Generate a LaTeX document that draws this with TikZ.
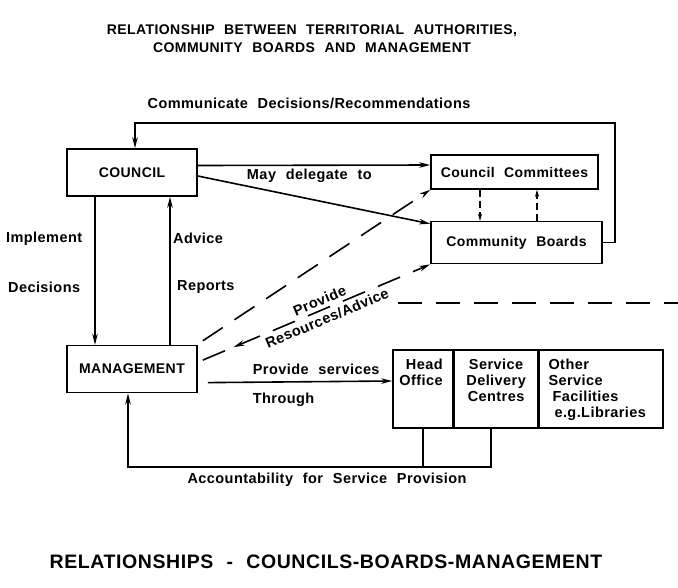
\documentclass[tikz,border=0pt]{standalone}
\usepackage{fontspec}
\setmainfont{Liberation Sans}[WordSpace=2.2,LetterSpace=3]
\usetikzlibrary{arrows.meta,positioning,decorations.markings}

\begin{document}
\begin{tikzpicture}[
    x=1pt, y=-1pt,
    line width=1.6pt,
    >={Stealth[length=11pt,width=5.5pt]},
    box node/.style={rectangle,draw,line width=1.6pt,font=\bfseries\fontsize{14}{16}\selectfont},
    text node/.style={font=\bfseries\fontsize{14.5}{16}\selectfont},
    title node/.style={font=\bfseries\fontsize{14}{18}\selectfont,align=center},
    long dashes/.style={dash pattern=on 24pt off 14pt},
    short dashes/.style={dash pattern=on 7pt off 4pt},
    small tip/.style={-{Stealth[length=7pt,width=4pt]}}
]

\useasboundingbox (0,0) rectangle (678,587);

% Titles
\node[title node] (title) at (312,39) {RELATIONSHIP BETWEEN TERRITORIAL AUTHORITIES,\\COMMUNITY BOARDS AND MANAGEMENT};
\node[font=\bfseries\fontsize{19.5}{24}\selectfont] (caption) at (326,562) {RELATIONSHIPS - COUNCILS-BOARDS-MANAGEMENT};

% Council and Management
\node[box node, minimum width=130pt, minimum height=47pt] (council) at (132,172.5) {COUNCIL};
\node[box node, minimum width=130pt, minimum height=47pt, below=148pt of council] (management) {MANAGEMENT};

% Committees and Boards
\node[box node, minimum width=167pt, minimum height=34pt] (committees) at (514.5,172) {Council Committees};
\node[box node, minimum width=171pt, minimum height=42pt, below=31pt of committees, xshift=2pt] (boards) {Community Boards};

% Service outlets
\node[box node, minimum width=60pt, minimum height=78pt] (head) at (423,389) {};
\node[box node, minimum width=83pt, minimum height=78pt, right=0pt of head] (centres) {};
\node[box node, minimum width=124pt, minimum height=78pt, right=0pt of centres] (other) {};
\node[text node, align=right, anchor=north east] (headtext) at ([xshift=-7pt,yshift=-6pt]head.north east) {Head\\Office};
\node[text node, align=center, anchor=north] (centrestext) at ([yshift=-6pt]centres.north) {Service\\Delivery\\Centres};
\node[text node, align=left, anchor=north west] (othertext) at ([xshift=6pt,yshift=-6pt]other.north west) {Other\\Service\\\hspace{4pt}Facilities\\\hspace{6pt}e.g.Libraries};

% Labels
\node[text node, anchor=west] (implement) at (2,239) {Implement};
\node[text node, anchor=west] (decisions) at (4,287) {Decisions};
\node[text node, anchor=west] (advice) at (169,238) {Advice};
\node[text node, anchor=west] (reports) at (173,287) {Reports};
\node[text node] (communicate) at (309,103) {Communicate Decisions/Recommendations};
\node[text node] (accountability) at (327,480) {Accountability for Service Provision};

% Arrows
\draw[->] ([yshift=7pt]council.east) -- ([yshift=7pt]committees.west) node[text node, below, pos=0.48] (delegate) {May delegate to};
\draw[->] ([yshift=-3.5pt]council.east) -- ([yshift=-3pt]boards.north west);
\draw[->] ([xshift=-37pt]council.south) -- ([xshift=-37pt]management.north);
\draw[->] ([xshift=38pt]management.north) -- ([xshift=38pt]council.south);

% Feedback to council
\coordinate (fb) at (135,123);
\draw[->] (boards.east) -- ++(12,0) |- (fb) -- ([xshift=3pt]council.north);

% Between committees and boards
\draw[short dashes, small tip] ([xshift=-34.5pt]committees.south) -- ([xshift=-34.5pt]committees.south |- boards.north);
\draw[short dashes, small tip] ([xshift=20.5pt]boards.north) -- ([xshift=20.5pt]boards.north |- committees.south);

% Resources and advice
\draw[long dashes, ->] ([xshift=5pt,yshift=4pt]management.north east) -- (committees.south west);
\draw[long dashes, ->, postaction={decorate}, decoration={markings, mark=at position 0.18 with {\arrow{<}}}] ([xshift=5pt,yshift=9pt]management.east) -- (boards.south west)
    node[text node, sloped, align=center, pos=0.53, font=\bfseries\fontsize{14.5}{19}\selectfont] (provide) {Provide\\Resources/Advice};

% Separator
\draw[long dashes] (398,303) -- (678,303);

% Services
\draw[->] ([xshift=10pt,yshift=-13.5pt]management.east) -- ([yshift=8pt]head.west)
    node[text node, pos=0.24, anchor=south west, inner xsep=0pt, inner ysep=7pt] (services) {Provide services}
    node[text node, pos=0.24, anchor=north west, inner xsep=0pt, inner ysep=10pt] (through) {Through};

% Accountability
\coordinate (acc) at (128,467);
\draw (head.south) -- (head.south |- acc);
\draw[->] ([xshift=-5pt]centres.south) |- (acc) -- (acc |- management.south);

\end{tikzpicture}
\end{document}
